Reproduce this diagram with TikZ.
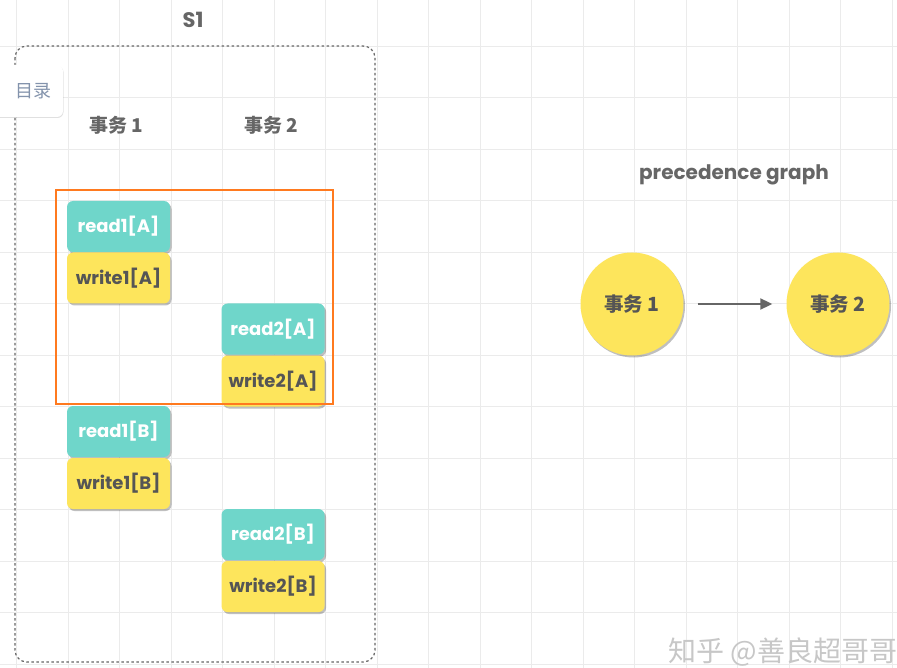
\documentclass[tikz,border=0pt]{standalone}
\usepackage{fontspec}
\setmainfont{Poppins}
\newfontfamily\cjk{Noto Sans CJK SC}
\usetikzlibrary{shadows,arrows.meta}
\definecolor{tealc}{HTML}{6FD6CA}
\definecolor{yelc}{HTML}{FDE55C}
\definecolor{txtd}{HTML}{555555}
\definecolor{hdr}{HTML}{666666}
\definecolor{orng}{HTML}{FF7A1F}
\definecolor{tabtxt}{HTML}{8393AC}
\tikzset{
  opbox/.style={rectangle, rounded corners=6pt, minimum width=103pt, minimum height=51pt,
    inner sep=0pt, font=\fontsize{18}{20}\selectfont\bfseries,
    drop shadow={shadow xshift=1.5pt, shadow yshift=-2pt, opacity=0.25, fill=black}},
  rd/.style={opbox, fill=tealc, text=white},
  wr/.style={opbox, fill=yelc, text=txtd},
  hd/.style={font=\cjk\fontsize{19}{21}\selectfont\bfseries, text=hdr},
  tx/.style={circle, fill=yelc, minimum size=103pt, inner sep=0pt, text=txtd,
    font=\cjk\fontsize{19.5}{21}\selectfont\bfseries,
    drop shadow={shadow xshift=1.5pt, shadow yshift=-2pt, opacity=0.25, fill=black}},
  gridline/.style={draw=black!8, line width=0.8pt}
}
\begin{document}
\begin{tikzpicture}[x=1pt,y=-1pt]
\useasboundingbox (0,0) rectangle (897,668);
\fill[white] (0,0) rectangle (897,668);
% grid
\foreach \i in {0,...,17} {\draw[gridline] (16.5+51.5*\i,0) -- (16.5+51.5*\i,668);}
\foreach \j in {0,...,13} {\draw[gridline] (0,-5.5+51.5*\j) -- (897,-5.5+51.5*\j);}
% schedule frame
\draw[black!60, dash pattern=on 2.5pt off 2.5pt, line width=1.2pt, rounded corners=12pt] (15,46) rectangle (375,662);
\node[font=\fontsize{21}{23}\selectfont\bfseries, text=hdr] (s1) at (193,20) {S1};
% tab
\node[rectangle, fill=white, rounded corners=6pt, minimum width=80pt, minimum height=52pt,
  drop shadow={shadow xshift=0.5pt, shadow yshift=-1pt, opacity=0.12, fill=black}] (tab) at (23,91) {};
\node[font=\cjk\fontsize{18}{20}\selectfont, text=tabtxt] (tabt) at (34,91) {目录};
% headers
\node[hd] (h1) at (116,125) {事务 1};
\node[hd] (h2) at (271,125) {事务 2};
% ops
\node[rd] (r1a) at (118.5,226.5) {read1[A]};
\node[wr] (w1a) at (118.5,278) {write1[A]};
\node[rd] (r2a) at (273,329) {read2[A]};
\node[wr] (w2a) at (273,381) {write2[A]};
\node[rd] (r1b) at (118.5,431.5) {read1[B]};
\node[wr] (w1b) at (118.5,483.5) {write1[B]};
\node[rd] (r2b) at (273,534.5) {read2[B]};
\node[wr] (w2b) at (273,586.5) {write2[B]};
% highlight
\draw[orng, line width=2.8pt] (56,190) rectangle (333,404);
% precedence graph
\node[font=\fontsize{20}{22}\selectfont\bfseries, text=hdr] (pg) at (734,175) {precedence graph};
\node[tx] (t1) at (632,304) {事务 1};
\node[tx] (t2) at (838,304) {事务 2};
\draw[hdr, line width=2pt, -{Triangle[length=12pt,width=11pt]}, shorten <=14pt, shorten >=14pt] (t1) -- (t2);
% watermark
\node[font=\cjk\fontsize{28}{30}\selectfont, text=black!22] (wm) at (783,652) {知乎 @善良超哥哥};
\end{tikzpicture}
\end{document}
